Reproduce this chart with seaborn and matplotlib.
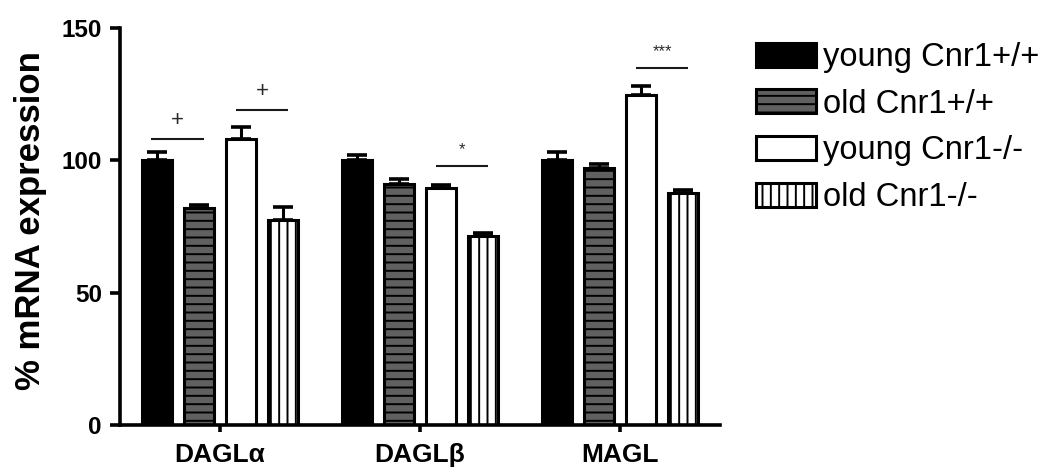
import numpy as np
import pandas as pd
import matplotlib
matplotlib.use("Agg")
import matplotlib.pyplot as plt
import matplotlib.patches as mpatches
import seaborn as sns

# Relative mRNA expression of endocannabinoid enzymes (mean and SEM)
genes = ["DAGLα", "DAGLβ", "MAGL"]
groups = ["young Cnr1+/+", "old Cnr1+/+", "young Cnr1-/-", "old Cnr1-/-"]
young_wt = [100.0, 100.0, 100.0]
young_wt_sem = [3.0, 2.0, 3.0]
old_wt = [82.0, 91.0, 97.0]
old_wt_sem = [1.0, 2.0, 1.5]
young_ko = [108.0, 89.5, 124.5]
young_ko_sem = [4.5, 1.2, 3.5]
old_ko = [77.5, 71.5, 87.5]
old_ko_sem = [5.0, 1.2, 1.2]

# Significance brackets: gene, first group, second group, height, label
sig_gene = ["DAGLα", "DAGLα", "DAGLβ", "MAGL"]
sig_first = [0, 2, 2, 2]
sig_second = [1, 3, 3, 3]
sig_height = [108.0, 119.0, 98.0, 135.0]
sig_label = ["+", "+", "*", "***"]

means = [young_wt, old_wt, young_ko, old_ko]
sems = [young_wt_sem, old_wt_sem, young_ko_sem, old_ko_sem]

df = pd.DataFrame({
    "gene": np.repeat([genes], len(groups), axis=0).ravel(),
    "group": np.repeat(groups, len(genes)),
    "value": np.concatenate(means),
    "sem": np.concatenate(sems),
})

sns.set_theme(style="ticks")
plt.rcParams["font.family"] = ["Liberation Sans", "DejaVu Sans"]
plt.rcParams["hatch.linewidth"] = 1.4
for key in ["text.color", "axes.labelcolor", "xtick.color", "ytick.color"]:
    plt.rcParams[key] = "black"

fills = ["black", "#606060", "white", "white"]
hatches = [None, "--", None, "||"]

fig = plt.figure(figsize=(10.44, 4.71), dpi=100)
ax = fig.add_axes([120 / 1044, 1 - 425 / 471, 600 / 1044, 397 / 471])

sns.barplot(data=df, x="gene", y="value", hue="group", order=genes,
            hue_order=groups, palette=fills, errorbar=None, width=0.846,
            gap=0.29, edgecolor="black", linewidth=2.2, saturation=1,
            legend=False, ax=ax)

bar_sets = list(ax.containers)
centers = {}
for gi, cont in enumerate(bar_sets):
    for ci, bar in enumerate(cont):
        if hatches[gi]:
            bar.set_hatch(hatches[gi])
        bar.set_edgecolor("black")
        cx = bar.get_x() + bar.get_width() / 2
        centers[(genes[ci], gi)] = cx
        top = bar.get_height()
        ax.errorbar(cx, top, yerr=[[0], [sems[gi][ci]]], fmt="none",
                    ecolor="black", elinewidth=2.2, capsize=7,
                    capthick=2.6, zorder=1)

for g, a, b, h, lab in zip(sig_gene, sig_first, sig_second, sig_height, sig_label):
    x0 = centers[(g, a)] - 0.028
    x1 = centers[(g, b)] + 0.025
    ax.plot([x0, x1], [h, h], color="#1a1a1a", lw=1.5, solid_capstyle="butt")
    ax.text((x0 + x1) / 2, h + 3.2, lab, ha="center", va="bottom",
            fontsize=16 if lab == "+" else 12, color="#2a2a2a")

ax.set_xlim(-0.5, 2.5)
ax.set_ylim(0, 150)
ax.set_yticks([0, 50, 100, 150])
ax.set_xlabel("")
ax.set_ylabel("% mRNA expression", fontsize=25, fontweight="bold")
ax.yaxis.set_label_coords(-0.122, 0.515)
sns.despine(ax=ax)
for s in ["left", "bottom"]:
    ax.spines[s].set_linewidth(2.6)
    ax.spines[s].set_color("black")
ax.tick_params(axis="y", length=7, width=2.6, labelsize=17.5, pad=6, color="black")
ax.tick_params(axis="x", length=5, width=2.6, labelsize=19, pad=8, color="black")
for t in ax.get_xticklabels() + ax.get_yticklabels():
    t.set_fontweight("bold")

handles = [mpatches.Patch(facecolor=f, edgecolor="black", hatch=h, linewidth=2.2)
           for f, h in zip(fills, hatches)]
fig.legend(handles, groups, loc="upper left",
           bbox_to_anchor=(756 / 1044, 1 - 42 / 471), frameon=False,
           fontsize=23.5, handlelength=1.84, handleheight=0.76,
           handletextpad=0.22, labelspacing=0.48, borderpad=0,
           borderaxespad=0, labelcolor="black")

fig.savefig("out.png", dpi=100)
